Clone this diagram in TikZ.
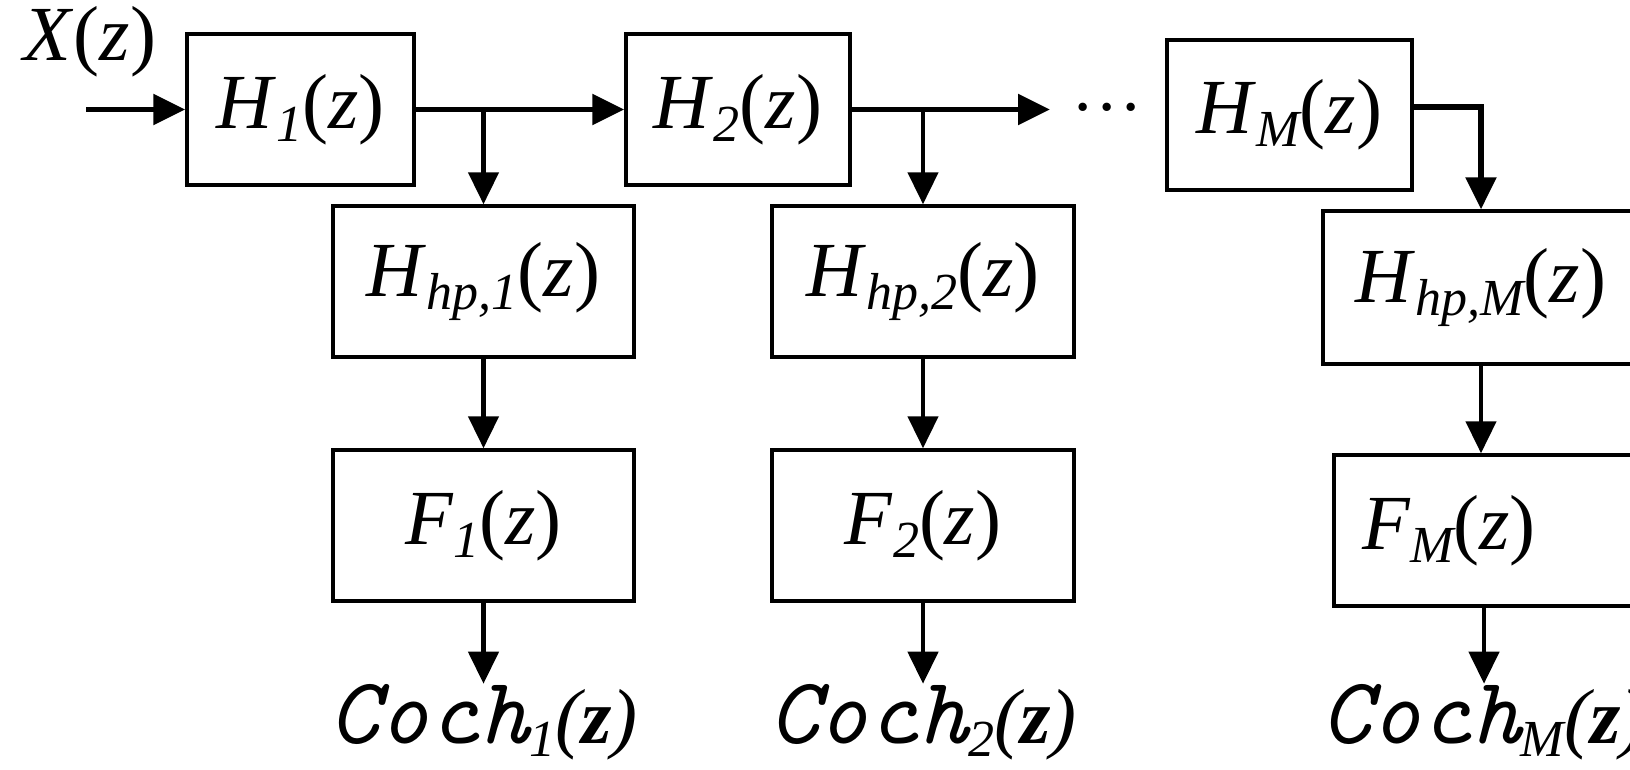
\documentclass[tikz,border=0pt]{standalone}
\usepackage{fontspec}
\setmainfont{Liberation Serif}
\usetikzlibrary{arrows.meta}
\newcommand\mysub[1]{\raisebox{-13pt}{\fontsize{52}{52}\selectfont\itshape #1}}
\newcommand\Hz[1]{\textit{H}\mysub{#1}(\textit{z})}
\newcommand\Fz[1]{\textit{F}\mysub{#1}(\textit{z})}
\newcommand\Cz[1]{{\fontsize{95}{95}\selectfont\ttfamily\itshape Coch}\mysub{#1}\textit{(\textbf{z})}}
\begin{document}
\begin{tikzpicture}[x=1pt,y=-1pt,
  blk/.style={draw, line width=3.4pt, inner sep=0pt, font=\fontsize{78}{78}\selectfont},
  lbl/.style={inner sep=0pt, font=\fontsize{78}{78}\selectfont},
  arr/.style={line width=5.5pt, -{Triangle[length=32pt,width=30pt]}},
  varr/.style={line width=4.5pt, -{Triangle[length=32pt,width=30pt]}}]
\clip (0,0) rectangle (1630,770);
% top row
\node[lbl] (x) at (90,42) {\textit{X}(\textit{z})};
\node[blk, minimum width=227pt, minimum height=151pt] (h1) at (300.5,109.5) {\Hz{1}};
\node[blk, minimum width=224pt, minimum height=151pt] (h2) at (738,109.5) {\Hz{2}};
\node[blk, minimum width=245pt, minimum height=150pt] (hm) at (1289.5,115) {\Hz{M}};
\node[lbl, font=\fontsize{70}{70}\selectfont] (dots) at (1107,117) {·\kern1pt·\kern1pt·};
% second row
\node[blk, minimum width=301pt, minimum height=151pt] (hp1) at (483.5,281.5) {\Hz{hp,1}};
\node[blk, minimum width=302pt, minimum height=151pt] (hp2) at (923,281.5) {\Hz{hp,2}};
\node[blk, minimum width=316pt, minimum height=153pt] (hpm) at (1481,287.5) {\Hz{hp,M}};
% third row
\node[blk, minimum width=301pt, minimum height=151pt] (f1) at (483.5,525.5) {\Fz{1}};
\node[blk, minimum width=302pt, minimum height=151pt] (f2) at (923,525.5) {\Fz{2}};
\node[blk, minimum width=320pt, minimum height=151pt] (fm) at (1494,530.5) {};
\node[lbl] (fmt) at (1449,530.5) {\Fz{M}};
% outputs
\node[lbl, anchor=base] (c1) at (483.5,743) {\Cz{1}};
\node[lbl, anchor=base] (c2) at (923,743) {\Cz{2}};
\node[lbl, anchor=base] (cm) at (1484,743) {\Cz{M}};
% connectors
\coordinate (in) at (86,109.5);
\coordinate (d1) at (1050,109.5);
\draw[arr] (in) -- (h1.west);
\draw[arr] (h1.east) -- (h2.west);
\draw[arr] (h2.east) -- (d1);
\draw[varr] (hp1.north |- h1.east) -- (hp1.north);
\draw[varr] (hp2.north |- h2.east) -- (hp2.north);
\draw[arr] ([yshift=8pt]hm.east) -| (hpm.north);
\draw[varr] (hp1.south) -- (f1.north);
\draw[varr] (hp2.south) -- (f2.north);
\draw[varr] (hpm.south) -- (hpm.south |- fm.north);
\draw[varr] (f1.south) -- (c1.north);
\draw[varr] (f2.south) -- (c2.north);
\draw[varr] (cm.north |- fm.south) -- (cm.north);
\end{tikzpicture}
\end{document}
